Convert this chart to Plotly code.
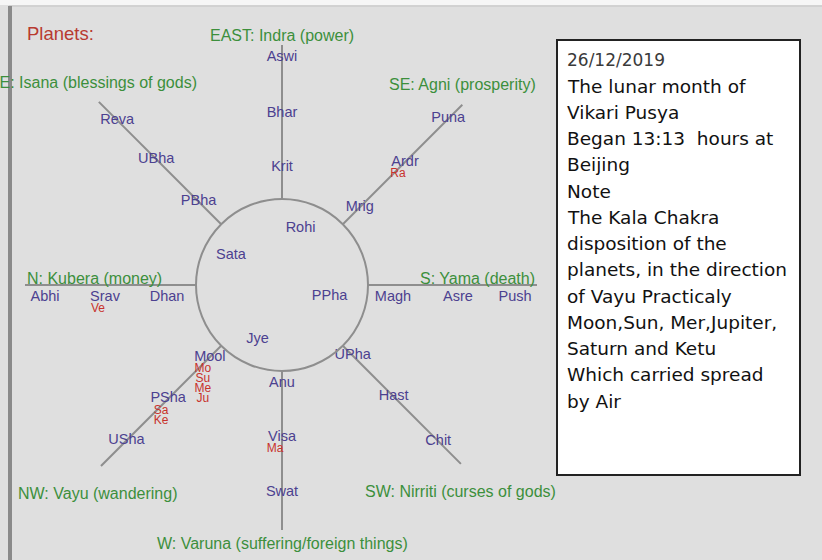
import numpy as np
import plotly.graph_objects as go

# ---------------- data ----------------
directions = ["EAST", "SE", "S", "SW", "W", "NW", "N", "NE"]
direction_labels = [
    "EAST: Indra (power)",
    "SE: Agni (prosperity)",
    "S: Yama (death)",
    "SW: Nirriti (curses of gods)",
    "W: Varuna (suffering/foreign things)",
    "NW: Vayu (wandering)",
    "N: Kubera (money)",
    "NE: Isana (blessings of gods)",
]
# nakshatras on each spoke, from the circle outwards
spoke_nakshatras = [
    ["Krit", "Bhar", "Aswi"],
    ["Mrig", "Ardr", "Puna"],
    ["Magh", "Asre", "Push"],
    ["UPha", "Hast", "Chit"],
    ["Anu", "Visa", "Swat"],
    ["Mool", "PSha", "USha"],
    ["Dhan", "Srav", "Abhi"],
    ["PBha", "UBha", "Reva"],
]
inner_nakshatras = ["Rohi", "PPha", "Jye", "Sata"]
inner_directions = ["EAST", "S", "W", "N"]

planet_codes = ["Ra", "Ve", "Ma", "Mo", "Su", "Me", "Ju", "Sa", "Ke"]
planet_nakshatra = ["Ardr", "Srav", "Visa", "Mool", "Mool", "Mool", "Mool", "PSha", "PSha"]

title_text = "Planets:"
note_date = "26/12/2019"
note_lines = [
    "The lunar month of",
    "Vikari Pusya",
    "Began 13:13  hours at",
    "Beijing",
    "Note",
    "The Kala Chakra",
    "disposition of the",
    "planets, in the direction",
    "of Vayu Practicaly",
    "Moon,Sun, Mer,Jupiter,",
    "Saturn and Ketu",
    "Which carried spread",
    "by Air",
]

# ---------------- layout / style ----------------
W, H = 822, 560
CX, CY = 282, 285          # pixel position of the wheel centre
R = 86                     # circle radius
angle = {"EAST": 90, "SE": 45, "S": 0, "SW": -45, "W": -90, "NW": -135, "N": 180, "NE": 135}
outer = {"EAST": 240, "SE": 255, "S": 255, "SW": 253, "W": 245, "NW": 256, "N": 257, "NE": 259}
rings = {
    "EAST": [118, 172, 228], "SE": [110, 174, 235], "S": [111, 176, 233], "SW": [100, 158, 221],
    "W": [98, 152, 207], "NW": [102, 161, 220], "N": [115, 177, 237], "NE": [118, 178, 233],
}
label_shift = {"S": (0, -12), "N": (0, -12)}
inner_pos = {"EAST": (72, 60), "S": (-14, 49), "W": (-114, 60), "N": (150, 59)}
# direction label placement relative to spoke end: (dx, dy, xanchor)
dir_place = {
    "EAST": (0, 10, "center"), "SE": (0, 20, "center"), "S": (0, 7, "right"),
    "SW": (0, -28, "center"), "W": (0, -13, "center"), "NW": (-3, -27, "center"),
    "N": (0, 7, "left"), "NE": (-6, 19, "center"),
}

GREEN = "#3c8f3c"
PURPLE = "#4c4190"
RED = "#c8322c"
LINE = "#8e8e8e"
FONT = "Liberation Sans, Arial, sans-serif"

fig = go.Figure()

def pol(a, r):
    t = np.deg2rad(a)
    return r * np.cos(t), r * np.sin(t)

# spokes
lx, ly = [], []
for d in directions:
    x0, y0 = pol(angle[d], R)
    x1, y1 = pol(angle[d], outer[d])
    lx += [x0, x1, None]
    ly += [y0, y1, None]
fig.add_trace(go.Scatter(x=lx, y=ly, mode="lines", line=dict(color=LINE, width=2),
                         hoverinfo="skip", showlegend=False))

# circle
fig.add_shape(type="circle", xref="x", yref="y", x0=-R, y0=-R, x1=R, y1=R,
              line=dict(color=LINE, width=2))

# nakshatra labels
nx, ny, nt = [], [], []
pos = {}
for d, names in zip(directions, spoke_nakshatras):
    for name, r in zip(names, rings[d]):
        x, y = pol(angle[d], r)
        sx, sy = label_shift.get(d, (0, 0))
        pos[name] = (x + sx, y + sy)
        nx.append(x + sx); ny.append(y + sy); nt.append(name)
for name, d in zip(inner_nakshatras, inner_directions):
    a, r = inner_pos[d]
    x, y = pol(a, r)
    pos[name] = (x, y)
    nx.append(x); ny.append(y); nt.append(name)
fig.add_trace(go.Scatter(x=nx, y=ny, mode="text", text=nt,
                         textfont=dict(family=FONT, size=14.5, color=PURPLE),
                         hoverinfo="skip", showlegend=False))

# planets stacked under their nakshatra
px_, py_, pt = [], [], []
count = {}
for p, n in zip(planet_codes, planet_nakshatra):
    k = count.get(n, 0)
    count[n] = k + 1
    x, y = pos[n]
    px_.append(x - 7); py_.append(y - 12 - 10 * k); pt.append(p)
fig.add_trace(go.Scatter(x=px_, y=py_, mode="text", text=pt,
                         textfont=dict(family=FONT, size=12, color=RED),
                         hoverinfo="skip", showlegend=False))

# direction labels
for d, lab in zip(directions, direction_labels):
    ex, ey = pol(angle[d], outer[d])
    dx, dy, xa = dir_place[d]
    fig.add_annotation(x=ex + dx, y=ey + dy, text=lab, showarrow=False, xanchor=xa,
                       yanchor="middle", font=dict(family=FONT, size=16, color=GREEN))

# title
fig.add_annotation(x=25 - CX, y=CY - 33, text=title_text, showarrow=False, xanchor="left",
                   yanchor="middle", font=dict(family=FONT, size=18.5, color="#b83a30"))

# window frame decorations
fig.add_shape(type="rect", xref="x", yref="y", x0=-CX, x1=W - CX, y0=CY, y1=CY - 5,
              fillcolor="#f6f6f6", line_width=0, layer="below")
fig.add_shape(type="line", xref="x", yref="y", x0=9 - CX, x1=W - CX, y0=CY - 6, y1=CY - 6,
              line=dict(color="#c4c4c4", width=1), layer="below")
fig.add_shape(type="line", xref="x", yref="y", x0=10 - CX, x1=10 - CX, y0=CY - 6, y1=CY - H,
              line=dict(color="#8a8a8a", width=4), layer="below")

# note box
bx0, bx1, by0, by1 = 557 - CX, 800 - CX, CY - 40, CY - 475
fig.add_shape(type="rect", xref="x", yref="y", x0=bx0, x1=bx1, y0=by0, y1=by1,
              fillcolor="white", line=dict(color="#222222", width=2))
fig.add_annotation(x=bx0 + 8, y=CY - 60, text=note_date, showarrow=False, xanchor="left",
                   yanchor="middle", font=dict(family="DejaVu Sans", size=17, color="#3a3a3a"))
for i, t in enumerate(note_lines):
    fig.add_annotation(x=bx0 + 8, y=CY - 86 - 26.25 * i, text=t, showarrow=False, xanchor="left",
                       yanchor="middle", font=dict(family="DejaVu Sans", size=18.5, color="#111111"))

fig.update_layout(
    width=W, height=H, margin=dict(l=0, r=0, t=0, b=0),
    paper_bgcolor="#dfdfdf", plot_bgcolor="#dfdfdf",
    xaxis=dict(range=[-CX, W - CX], visible=False, fixedrange=True),
    yaxis=dict(range=[CY - H, CY], visible=False, fixedrange=True),
    showlegend=False,
)
fig.write_html("out.html", post_script="document.body.style.margin='0';",
               config={"displayModeBar": False})
